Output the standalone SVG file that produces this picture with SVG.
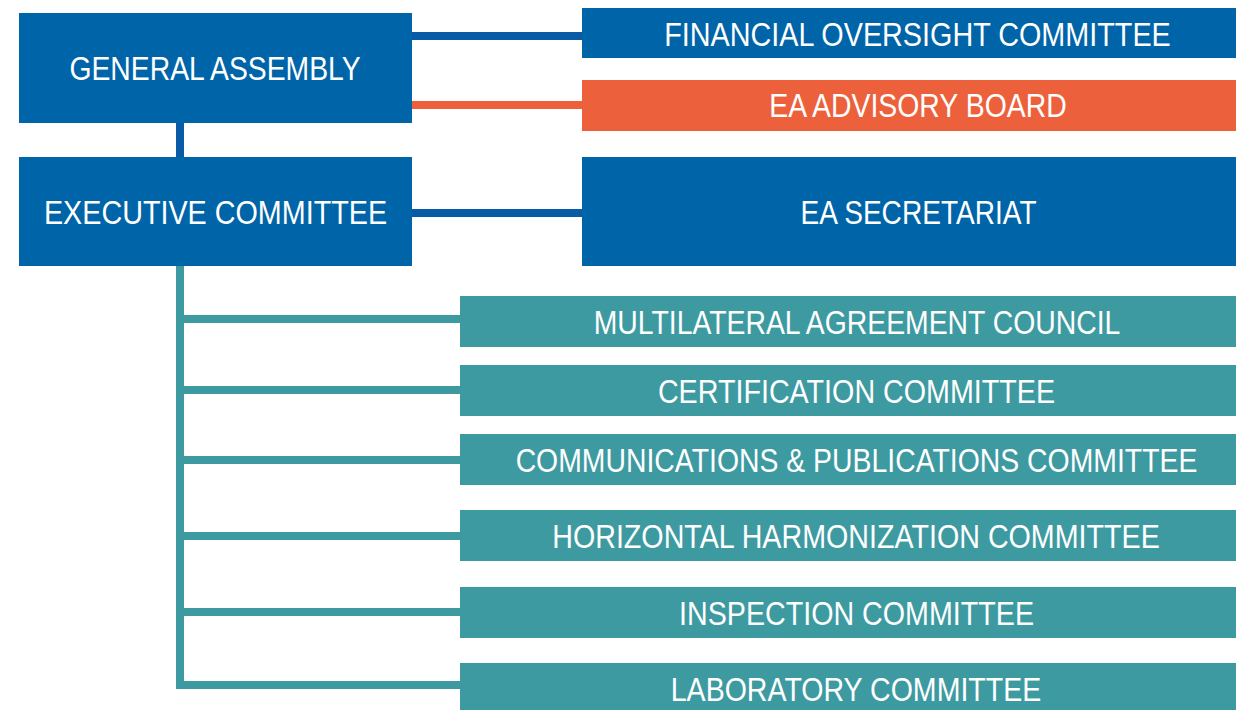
<svg xmlns="http://www.w3.org/2000/svg" width="1236" height="710" viewBox="0 0 1236 710">
<style>
.blue{fill:#0064A8}
.orange{fill:#EC613B}
.teal{fill:#3D9AA1}
.lbl{font-family:"Liberation Sans",Arial,sans-serif;font-size:34px;fill:#FFFFFF;text-anchor:middle}
.cb{stroke:#0A5BA5;stroke-width:8;fill:none}
.co{stroke:#EC613B;stroke-width:8;fill:none}
.ct{stroke:#3D9AA1;stroke-width:8;fill:none}
</style>
<rect width="1236" height="710" fill="#FFFFFF"/>
<g id="connectors">
<line class="cb" x1="412" y1="36" x2="582" y2="36"/>
<line class="co" x1="412" y1="105" x2="582" y2="105"/>
<line class="cb" x1="180" y1="123" x2="180" y2="157"/>
<line class="cb" x1="412" y1="213" x2="582" y2="213"/>
<line class="ct" x1="180" y1="266" x2="180" y2="689"/>
<line class="ct" x1="176" y1="319" x2="460" y2="319"/>
<line class="ct" x1="176" y1="390" x2="460" y2="390"/>
<line class="ct" x1="176" y1="460" x2="460" y2="460"/>
<line class="ct" x1="176" y1="536" x2="460" y2="536"/>
<line class="ct" x1="176" y1="612" x2="460" y2="612"/>
<line class="ct" x1="176" y1="685" x2="460" y2="685"/>
</g>
<g id="general-assembly">
<rect class="blue" x="19" y="13" width="393" height="110"/>
<text class="lbl" transform="translate(215,80) scale(0.833,1)">GENERAL ASSEMBLY</text>
</g>
<g id="executive-committee">
<rect class="blue" x="19" y="157" width="393" height="109"/>
<text class="lbl" transform="translate(215.5,224) scale(0.845,1)">EXECUTIVE COMMITTEE</text>
</g>
<g id="financial-oversight-committee">
<rect class="blue" x="582" y="8" width="654" height="50"/>
<text class="lbl" transform="translate(917.5,46) scale(0.846,1)">FINANCIAL OVERSIGHT COMMITTEE</text>
</g>
<g id="ea-advisory-board">
<rect class="orange" x="582" y="80" width="654" height="51"/>
<text class="lbl" transform="translate(918,117) scale(0.836,1)">EA ADVISORY BOARD</text>
</g>
<g id="ea-secretariat">
<rect class="blue" x="582" y="157" width="654" height="109"/>
<text class="lbl" transform="translate(918.5,224) scale(0.826,1)">EA SECRETARIAT</text>
</g>
<g id="multilateral-agreement-council">
<rect class="teal" x="460" y="296" width="776" height="51"/>
<text class="lbl" transform="translate(857,334) scale(0.834,1)">MULTILATERAL AGREEMENT COUNCIL</text>
</g>
<g id="certification-committee">
<rect class="teal" x="460" y="365" width="776" height="51"/>
<text class="lbl" transform="translate(856.5,403) scale(0.844,1)">CERTIFICATION COMMITTEE</text>
</g>
<g id="communications-publications-committee">
<rect class="teal" x="460" y="434" width="776" height="51"/>
<text class="lbl" transform="translate(856.5,472) scale(0.835,1)">COMMUNICATIONS &amp; PUBLICATIONS COMMITTEE</text>
</g>
<g id="horizontal-harmonization-committee">
<rect class="teal" x="460" y="510" width="776" height="51"/>
<text class="lbl" transform="translate(856,548) scale(0.843,1)">HORIZONTAL HARMONIZATION COMMITTEE</text>
</g>
<g id="inspection-committee">
<rect class="teal" x="460" y="587" width="776" height="51"/>
<text class="lbl" transform="translate(856.5,625) scale(0.843,1)">INSPECTION COMMITTEE</text>
</g>
<g id="laboratory-committee">
<rect class="teal" x="460" y="663" width="776" height="47"/>
<text class="lbl" transform="translate(856,701) scale(0.84,1)">LABORATORY COMMITTEE</text>
</g>
</svg>
